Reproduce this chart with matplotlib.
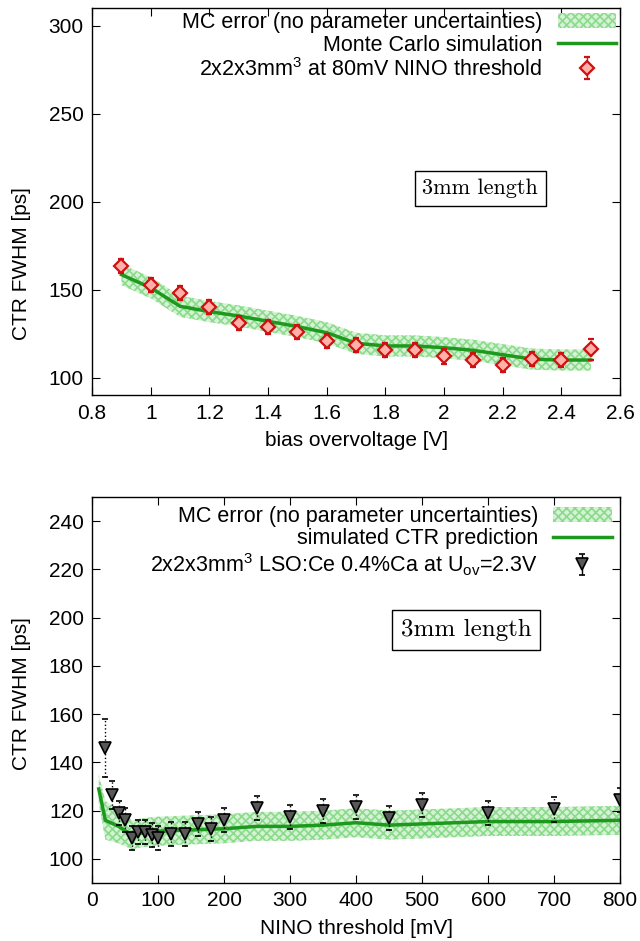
import matplotlib.pyplot as plt
import numpy as np
from matplotlib.ticker import FormatStrFormatter

plt.rcParams['font.family'] = ['Liberation Sans', 'DejaVu Sans']
plt.rcParams['mathtext.default'] = 'regular'
plt.rcParams['hatch.linewidth'] = 1.2

FS = 15

# top panel: bias overvoltage scan
ov = [0.9, 1.0, 1.1, 1.2, 1.3, 1.4, 1.5, 1.6, 1.7, 1.8, 1.9, 2.0, 2.1, 2.2, 2.3, 2.4, 2.5]
ctr_meas = [163.5, 152.5, 148, 140, 131, 129, 126, 121, 118.5, 115.5, 115.5, 112, 110, 107, 110.5, 110, 116]
ctr_meas_err = [4, 4, 4, 4, 4, 4, 4, 4, 4, 4, 4, 4, 4, 4, 4, 4, 6]
mc_ov = [158.5, 151, 140.5, 137.5, 135, 132, 129, 125.5, 119.5, 118, 118, 117, 115.5, 113, 110.5, 110, 110]
mc_ov_err = [6] * 17

# bottom panel: NINO threshold scan
thr = [20, 30, 40, 50, 60, 70, 80, 90, 100, 120, 140, 160, 180, 200, 250, 300, 350, 400, 450, 500, 600, 700, 800]
ctr_thr = [146, 126.5, 119, 116, 108.5, 111, 111, 110, 108.5, 110.5, 110.5, 114.5, 112.5, 116, 121, 117.5, 120, 121.5, 117, 122.5, 119, 120.5, 124.5]
ctr_thr_err = [12, 6, 5, 5, 5, 5, 5, 5, 5, 5, 5, 5, 5, 5, 5, 5, 5, 5, 5, 5, 5, 5, 5]
mc_thr_x = [10, 20, 40, 60, 80, 100, 150, 200, 250, 300, 350, 400, 450, 500, 600, 700, 800]
mc_thr = [129, 116, 113.5, 110, 111, 111.5, 112, 112.5, 113.5, 113.5, 114, 115, 114, 114.5, 115.5, 115.5, 116]
mc_thr_err = [6, 8, 7, 6, 6, 6, 6, 6, 6, 6, 6, 6, 6, 6, 6, 6, 6]

fig = plt.figure(figsize=(6.4, 9.41), dpi=100)
ax1 = fig.add_axes([0.144, 0.580, 0.825, 0.4115])
ax2 = fig.add_axes([0.144, 0.0616, 0.825, 0.4102])

band_kw = dict(facecolor='#d4f2d4', edgecolor='#8cda8c', hatch='xxxx', linewidth=0)
line_col = '#1d9a1d'


def style(ax):
    ax.tick_params(direction='in', top=True, right=True, length=6, labelsize=FS, pad=6)
    for s in ax.spines.values():
        s.set_linewidth(1.0)


def gp_legend(ax, pad):
    leg = ax.legend(loc='upper right', frameon=False, markerfirst=False, fontsize=15.5,
                    handlelength=2.7, borderaxespad=pad, labelspacing=0.08,
                    handletextpad=0.7, borderpad=0.1)
    return leg


# ---- top ----
lo = np.array(mc_ov) - np.array(mc_ov_err)
hi = np.array(mc_ov) + np.array(mc_ov_err)
ax1.fill_between(ov, lo, hi, label='MC error (no parameter uncertainties)', **band_kw)
ax1.plot(ov, mc_ov, color=line_col, lw=2.5, label='Monte Carlo simulation')
ax1.errorbar(ov, ctr_meas, yerr=ctr_meas_err, fmt='D', ms=7, mfc='#ffb0a8', mec='#d01010',
             mew=1.6, ecolor='#d01010', elinewidth=1, capsize=2.5,
             label='2x2x3mm$^3$ at 80mV NINO threshold')
ax1.set_xlim(0.8, 2.6)
ax1.set_ylim(90, 310)
ax1.set_xticks(np.arange(0.8, 2.61, 0.2))
ax1.xaxis.set_major_formatter(FormatStrFormatter('%g'))
ax1.set_yticks([100, 150, 200, 250, 300])
ax1.set_xlabel('bias overvoltage [V]', fontsize=FS, labelpad=6)
ax1.set_ylabel('CTR FWHM [ps]', fontsize=FS)
ax1.yaxis.set_label_coords(-0.115, 0.34)
style(ax1)
gp_legend(ax1, 0.1)
ax1.text(0.735, 0.535, '3mm length', transform=ax1.transAxes, family='cmr10', fontsize=16,
         ha='center', va='center', bbox=dict(boxstyle='square,pad=0.35', fc='white', ec='black', lw=1))

# ---- bottom ----
lo = np.array(mc_thr) - np.array(mc_thr_err)
hi = np.array(mc_thr) + np.array(mc_thr_err)
ax2.fill_between(mc_thr_x, lo, hi, label='MC error (no parameter uncertainties)', **band_kw)
ax2.plot(mc_thr_x, mc_thr, color=line_col, lw=2.5, label='simulated CTR prediction')
ax2.errorbar(thr, ctr_thr, yerr=ctr_thr_err, fmt='v', ms=8, mfc='#585858', mec='black',
             mew=1.2, ecolor='black', elinewidth=1, capsize=2.5,
             label='2x2x3mm$^3$ LSO:Ce 0.4%Ca at U$_{ov}$=2.3V')
ax2.set_xlim(0, 800)
ax2.set_ylim(90, 250)
ax2.set_xticks(np.arange(0, 801, 100))
ax2.set_yticks(np.arange(100, 241, 20))
ax2.set_xlabel('NINO threshold [mV]', fontsize=FS, labelpad=6)
ax2.set_ylabel('CTR FWHM [ps]', fontsize=FS)
ax2.yaxis.set_label_coords(-0.115, 0.49)
style(ax2)
gp_legend(ax2, 0.3)
ax2.text(0.708, 0.655, '3mm length', transform=ax2.transAxes, family='cmr10', fontsize=18,
         ha='center', va='center', bbox=dict(boxstyle='square,pad=0.35', fc='white', ec='black', lw=1))

# dotted error bars like the gnuplot original
for ax in (ax1, ax2):
    for c in ax.containers:
        if hasattr(c, 'lines') and c.lines[2]:
            for lc in c.lines[2]:
                lc.set_linestyle(':')

fig.savefig('out.png', dpi=100)
